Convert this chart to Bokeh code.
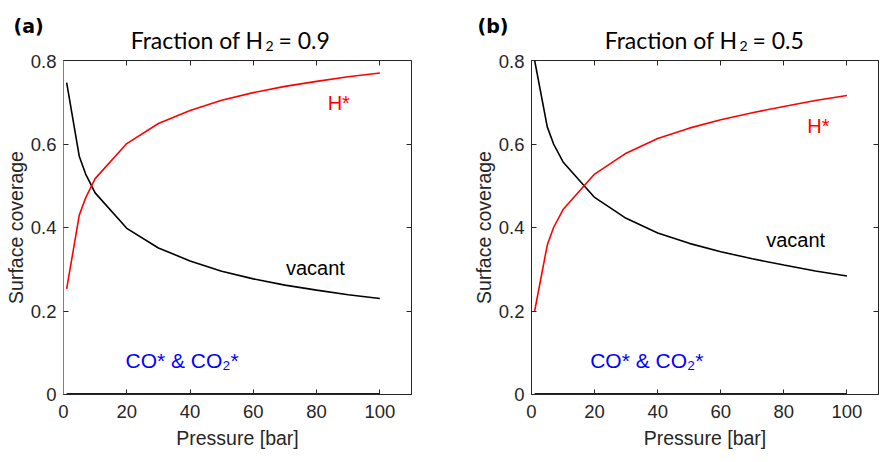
from bokeh.plotting import figure
from bokeh.layouts import row, column
from bokeh.models import FixedTicker, LinearAxis, Label, Range1d, CustomLabelingPolicy
from bokeh.embed import file_html
from bokeh.resources import INLINE

# ---- data ----
pressure = [1, 5, 7, 10, 20, 30, 40, 50, 60, 70, 80, 90, 100]

vacant_a = [0.747, 0.570, 0.528, 0.483, 0.398, 0.351, 0.320, 0.295, 0.277, 0.262, 0.250, 0.239, 0.230]
h_a = [0.253, 0.430, 0.471, 0.517, 0.601, 0.649, 0.680, 0.705, 0.723, 0.738, 0.750, 0.761, 0.770]
co_a = [0, 0, 0, 0, 0, 0, 0, 0, 0, 0, 0, 0, 0]

vacant_b = [0.800, 0.641, 0.600, 0.557, 0.472, 0.422, 0.387, 0.362, 0.342, 0.325, 0.310, 0.296, 0.284]
h_b = [0.200, 0.358, 0.400, 0.443, 0.528, 0.578, 0.613, 0.638, 0.658, 0.675, 0.690, 0.704, 0.716]
co_b = [0, 0, 0, 0, 0, 0, 0, 0, 0, 0, 0, 0, 0]

x_ticks = [0, 20, 40, 60, 80, 100]
y_ticks = [0, 0.2, 0.4, 0.6, 0.8]
y_tick_labels = {0: "0", 0.2: "0.2", 0.4: "0.4", 0.6: "0.6", 0.8: "0.8"}

panel_tags = ["(a)", "(b)"]
title_head = "Fraction of H"
title_sub = "2"
title_tails = ["= 0.9", "= 0.5"]

SANS = "Liberation Sans"
TITLE_FONT = "Lato"
AX = "#262626"
HEADER_H = 54
TOP_GAP = 6

NO_LABELS = """
for (const i of indices) {
    indices.unset(i)
}
return indices
"""


def make_panel(vacant, h, co, left, right, lab_pos, left_axis_color):
    p = figure(width=441, height=462 - HEADER_H, output_backend="svg", toolbar_location=None,
               x_range=Range1d(0, 110), y_range=Range1d(0, 0.8),
               min_border_left=left, min_border_right=right,
               min_border_top=TOP_GAP, min_border_bottom=68)
    p.title_location = None
    p.grid.visible = False
    p.outline_line_color = None
    p.background_fill_color = "white"
    p.border_fill_color = "white"

    xa = p.xaxis[0]
    xa.ticker = FixedTicker(ticks=x_ticks)
    xa.axis_label = "Pressure [bar]"
    ya = p.yaxis[0]
    ya.ticker = FixedTicker(ticks=y_ticks)
    ya.major_label_overrides = y_tick_labels
    ya.axis_label = "Surface coverage"

    for ax in (xa, ya):
        ax.major_tick_in = 5
        ax.major_tick_out = 0
        ax.minor_tick_line_color = None
        ax.major_label_text_font = SANS
        ax.major_label_text_font_size = "18.5px"
        ax.major_label_text_color = AX
        ax.axis_label_text_font = SANS
        ax.axis_label_text_font_size = "19.5px"
        ax.axis_label_text_font_style = "normal"
        ax.axis_label_text_color = AX
        ax.major_tick_line_color = AX
        ax.axis_line_color = AX
    ya.axis_line_color = left_axis_color
    xa.major_label_standoff = 10
    xa.axis_label_standoff = 6
    ya.major_label_standoff = 7
    ya.axis_label_standoff = 1

    top = LinearAxis(ticker=FixedTicker(ticks=x_ticks), major_tick_in=5, major_tick_out=0,
                     minor_tick_line_color=None, major_label_text_font_size="1px",
                     major_label_standoff=0, axis_line_color=AX, major_tick_line_color=AX,
                     major_label_policy=CustomLabelingPolicy(code=NO_LABELS))
    rgt = LinearAxis(ticker=FixedTicker(ticks=y_ticks), major_tick_in=5, major_tick_out=0,
                     minor_tick_line_color=None, major_label_text_font_size="1px",
                     major_label_standoff=0, axis_line_color=AX, major_tick_line_color=AX,
                     major_label_policy=CustomLabelingPolicy(code=NO_LABELS))
    p.add_layout(top, "above")
    p.add_layout(rgt, "right")

    p.line(pressure, co, line_color="#0000ff", line_width=3)
    p.line(pressure, vacant, line_color="black", line_width=1.6)
    p.line(pressure, h, line_color="#ff0000", line_width=1.6)

    (hx, hy), (vx, vy), (cx, cy) = lab_pos
    p.add_layout(Label(x=hx, y=hy, text="H*", text_color="#ff0000", text_font=SANS,
                       text_font_size="20px", text_baseline="alphabetic"))
    p.add_layout(Label(x=vx, y=vy, text="vacant", text_color="black", text_font=SANS,
                       text_font_size="20px", text_baseline="alphabetic"))
    p.add_layout(Label(x=cx, y=cy, text="CO* & CO\u2082*", text_color="#0000ff", text_font=SANS,
                       text_font_size="21px", text_baseline="alphabetic"))
    return p


# header strip holding the panel tags and titles (pixel-like coordinates, y downward)
header = figure(width=882, height=HEADER_H, output_backend="svg", toolbar_location=None,
                x_range=Range1d(0, 882), y_range=Range1d(HEADER_H, 0),
                min_border=0, min_border_left=0, min_border_right=0,
                min_border_top=0, min_border_bottom=0)
header.title_location = None
header.axis.visible = False
header.grid.visible = False
header.outline_line_color = None
header.background_fill_color = "white"
header.border_fill_color = "white"

h_right = [263, 737]   # right edge of "Fraction of H"
tag_x = [13, 477]
for tail, tg, hr, gx in zip(title_tails, panel_tags, h_right, tag_x):
    header.add_layout(Label(x=hr, y=39, text=title_head, text_font=TITLE_FONT,
                            text_font_size="23px", text_align="right",
                            text_baseline="alphabetic", text_color="black"))
    header.add_layout(Label(x=hr + 2, y=45.5, text=title_sub, text_font=TITLE_FONT,
                            text_font_size="14px", text_align="left",
                            text_baseline="alphabetic", text_color="black"))
    header.add_layout(Label(x=hr + 15, y=39, text=tail, text_font=TITLE_FONT,
                            text_font_size="23px", text_align="left",
                            text_baseline="alphabetic", text_color="black"))
    header.add_layout(Label(x=gx, y=25, text=tg, text_font="DejaVu Sans",
                            text_font_style="bold", text_font_size="19px", text_align="left",
                            text_baseline="alphabetic", text_color="black"))

pa = make_panel(vacant_a, h_a, co_a, 63, 30,
                [(83.5, 0.699), (70.3, 0.304), (19.6, 0.082)], "#808080")
pb = make_panel(vacant_b, h_b, co_b, 90, 3,
                [(87.4, 0.644), (74.4, 0.369), (18.6, 0.082)], AX)

layout = column(header, row(pa, pb))
open("out.html", "w").write(file_html(layout, INLINE))
